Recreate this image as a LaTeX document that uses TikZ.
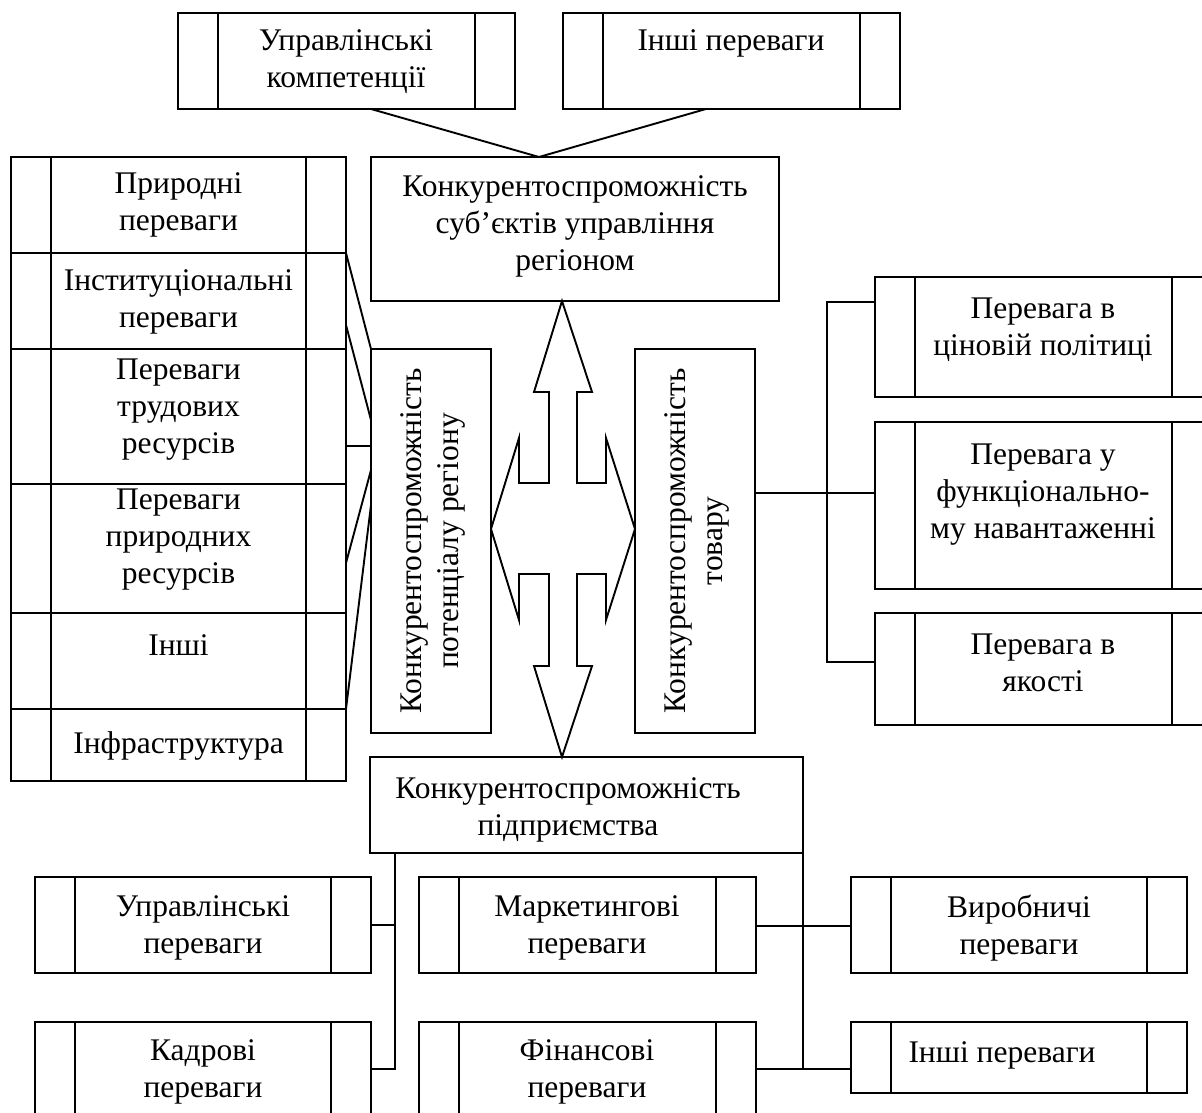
\documentclass[tikz,border=0pt]{standalone}
\usepackage{fontspec}
\setmainfont{Liberation Serif}
\usetikzlibrary{fit}
\newcommand\procbox[5]{%
  \node[box, fit={(#2,#3) (#4,#5)}] (#1) {};
  \draw ([xshift=40pt]#1.north west) -- ([xshift=40pt]#1.south west)
        ([xshift=-40pt]#1.north east) -- ([xshift=-40pt]#1.south east);}
\begin{document}
\begin{tikzpicture}[x=1pt,y=-1pt, line width=1.9pt,
  box/.style={draw, line width=1.9pt, inner sep=0pt, outer sep=0pt},
  txt/.style={align=center, inner sep=0pt, font=\fontsize{31.5}{37}\selectfont},
  ln/.style={line width=1.9pt}]
\useasboundingbox (0,0) rectangle (1202,1113);
\clip (0,0) rectangle (1202,1113);

% top boxes
\procbox{ptop1}{178}{13}{515}{109}
\procbox{ptop2}{563}{13}{900}{109}
\node[box, fit={(371,157) (779,301)}] (ctop) {};

% left column
\procbox{lc1}{11}{157}{346}{253}
\procbox{lc2}{11}{253}{346}{349}
\procbox{lc3}{11}{349}{346}{484}
\procbox{lc4}{11}{484}{346}{613}
\procbox{lc5}{11}{613}{346}{709}
\procbox{lc6}{11}{709}{346}{781}

% vertical boxes
\node[box, fit={(371,349) (491,733)}] (vleft) {};
\node[box, fit={(635,349) (755,733)}] (vright) {};

% right column
\procbox{rc1}{875}{277}{1212}{397}
\procbox{rc2}{875}{422}{1212}{589}
\procbox{rc3}{875}{613}{1212}{725}

% bottom
\node[box, fit={(370,757) (803,853)}] (cbot) {};
\procbox{pb1}{35}{877}{371}{973}
\procbox{pb2}{419}{877}{756}{973}
\procbox{pb3}{851}{877}{1187}{973}
\procbox{pb4}{35}{1022}{371}{1125}
\procbox{pb5}{419}{1022}{756}{1125}
\procbox{pb6}{851}{1022}{1187}{1093}

% cross arrow
\draw[ln, line join=miter] (562,301) -- (592,392) -- (577,392) -- (577,483) -- (606,483) -- (606,438) -- (635,529) -- (606,620) -- (606,574) -- (577,574) -- (577,666) -- (592,666) -- (562,757) -- (534,666) -- (549,666) -- (549,574) -- (519,574) -- (519,620) -- (491,529) -- (519,438) -- (519,483) -- (549,483) -- (549,392) -- (534,392) -- cycle;

% texts
\node[txt] (tptop1) at (346,62) {Управлінські\\компетенції};
\node[txt] (tptop2) at (731,43) {Інші переваги};
\node[txt] (tctop) at (575,226) {Конкурентоспроможність\\суб’єктів управління\\регіоном};
\node[txt] (tlc1) at (178.5,205) {Природні\\переваги};
\node[txt] (tlc2) at (178.5,302) {Інституціональні\\переваги};
\node[txt] (tlc3) at (178.5,410) {Переваги\\трудових\\ресурсів};
\node[txt] (tlc4) at (178.5,540) {Переваги\\природних\\ресурсів};
\node[txt] (tlc5) at (178.5,645) {Інші};
\node[txt] (tlc6) at (178.5,746) {Інфраструктура};
\node[txt, rotate=90] (tvl) at (433,541) {Конкурентоспроможність\\потенціалу регіону};
\node[txt, rotate=90] (tvr) at (697,541) {Конкурентоспроможність\\товару};
\node[txt] (trc1) at (1043,330) {Перевага в\\ціновій політиці};
\node[txt] (trc2) at (1043,495) {Перевага у\\функціонально-\\му навантаженні};
\node[txt] (trc3) at (1043,663) {Перевага в\\якості};
\node[txt] (tcbot) at (568,810) {Конкурентоспроможність\\підприємства};
\node[txt] (tpb1) at (203,928) {Управлінські\\переваги};
\node[txt] (tpb2) at (587,928) {Маркетингові\\переваги};
\node[txt] (tpb3) at (1019,928) {Виробничі\\переваги};
\node[txt] (tpb4) at (203,1072) {Кадрові\\переваги};
\node[txt] (tpb5) at (587,1072) {Фінансові\\переваги};
\node[txt] (tpb6) at (1002,1055) {Інші переваги};

% connectors top
\draw[ln] (ptop1.south -| 371,0) -- (ctop.north -| 539,0);
\draw[ln] (ptop2.south -| 706,0) -- (ctop.north -| 539,0);

% connectors left column
\draw[ln] (lc1.south east) -- (vleft.north west);
\draw[ln] (lc2.east |- 0,325) -- (vleft.west |- 0,420);
\draw[ln] (lc3.east |- 0,446) -- (vleft.west |- 0,446);
\draw[ln] (lc4.east |- 0,563) -- (vleft.west |- 0,470);
\draw[ln] (lc5.south east) -- (vleft.west |- 0,505);

% connectors right column
\coordinate (rbus) at (827,302);
\draw[ln] (vright.east |- 0,493) -- (rc2.west |- 0,493);
\draw[ln] (rc1.west |- rbus) -- (rbus) -- (rbus |- 0,662) -- (rc3.west |- 0,662);

% connectors bottom
\coordinate (lbus) at (395,1069);
\draw[ln] (cbot.south -| lbus) -- (lbus) -- (pb4.east |- lbus);
\draw[ln] (pb1.east |- 0,925) -- (lbus |- 0,925);
\draw[ln] (cbot.south east) -- (cbot.east |- lbus);
\draw[ln] (pb2.east |- 0,926) -- (pb3.west |- 0,926);
\draw[ln] (pb5.east |- lbus) -- (pb6.west |- lbus);
\end{tikzpicture}
\end{document}
